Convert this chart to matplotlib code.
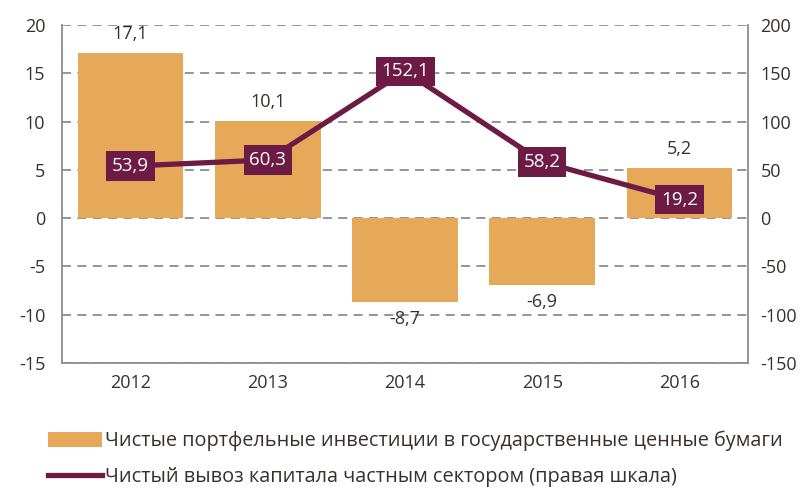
import matplotlib
matplotlib.use('Agg')
import matplotlib.pyplot as plt
from matplotlib.patches import Patch
from matplotlib.lines import Line2D

# data
years = ['2012', '2013', '2014', '2015', '2016']
portfolio = [17.1, 10.1, -8.7, -6.9, 5.2]
capital_outflow = [53.9, 60.3, 152.1, 58.2, 19.2]

bar_color = '#e6a95a'
line_color = '#6d1a45'
text_color = '#3b2e2e'
grid_color = '#8c8c8c'

plt.rcParams['font.family'] = ['Open Sans', 'DejaVu Sans']
plt.rcParams['axes.unicode_minus'] = False

fig = plt.figure(figsize=(8.08, 4.91), dpi=100)
ax = fig.add_axes([62 / 808, 1 - 363 / 491, 686 / 808, 338 / 491])
ax2 = ax.twinx()

x = list(range(len(years)))
ax.bar(x, portfolio, width=0.77, color=bar_color, zorder=2)
ax.set_xlim(-0.5, len(years) - 0.5)
ax.set_ylim(-15, 20)
ax.set_yticks(range(-15, 21, 5))
ax.set_xticks(x)
ax.set_xticklabels(years)
ax.yaxis.grid(True, linestyle=(0, (5, 3.5)), color=grid_color, linewidth=1.3, zorder=0)
ax.set_axisbelow(True)

for xi, v in zip(x, portfolio):
    lbl = f'{v:.1f}'.replace('.', ',')
    if v >= 0:
        ax.text(xi, v + 1.0, lbl, ha='center', va='bottom', fontsize=13, color=text_color)
    else:
        ax.text(xi, v - 0.8, lbl, ha='center', va='top', fontsize=13, color=text_color)

ax2.plot(x, capital_outflow, color=line_color, linewidth=3.8, zorder=3)
ax2.set_ylim(-150, 200)
ax2.set_yticks(range(-150, 201, 50))
for xi, v in zip(x, capital_outflow):
    lbl = f'{v:.1f}'.replace('.', ',')
    ax2.text(xi, v, lbl, ha='center', va='center', fontsize=13.5, color='white', zorder=4,
             bbox=dict(boxstyle='square,pad=0.3', facecolor=line_color, edgecolor='none'))

for a in (ax, ax2):
    for s in a.spines.values():
        s.set_visible(False)
    a.tick_params(axis='both', length=0, labelsize=13, labelcolor=text_color)
for a, side in ((ax, 'left'), (ax2, 'right'), (ax, 'bottom')):
    a.spines[side].set_visible(True)
    a.spines[side].set_color(grid_color)
    a.spines[side].set_linewidth(1.3)
ax.tick_params(axis='x', pad=8)
ax.tick_params(axis='y', pad=12)
ax2.tick_params(axis='y', pad=9)

handles = [Patch(facecolor=bar_color, edgecolor='none'),
           Line2D([0], [0], color=line_color, linewidth=3.8)]
labels = ['Чистые портфельные инвестиции в государственные ценные бумаги',
          'Чистый вывоз капитала частным сектором (правая шкала)']
fig.legend(handles, labels, loc='upper left', bbox_to_anchor=(48 / 808, 1 - 431 / 491),
           frameon=False, fontsize=14.3, handlelength=2.7, handleheight=0.8, handletextpad=0.15,
           labelspacing=0.8, borderaxespad=0, borderpad=0, labelcolor=text_color)

fig.savefig('out.png', dpi=100)
